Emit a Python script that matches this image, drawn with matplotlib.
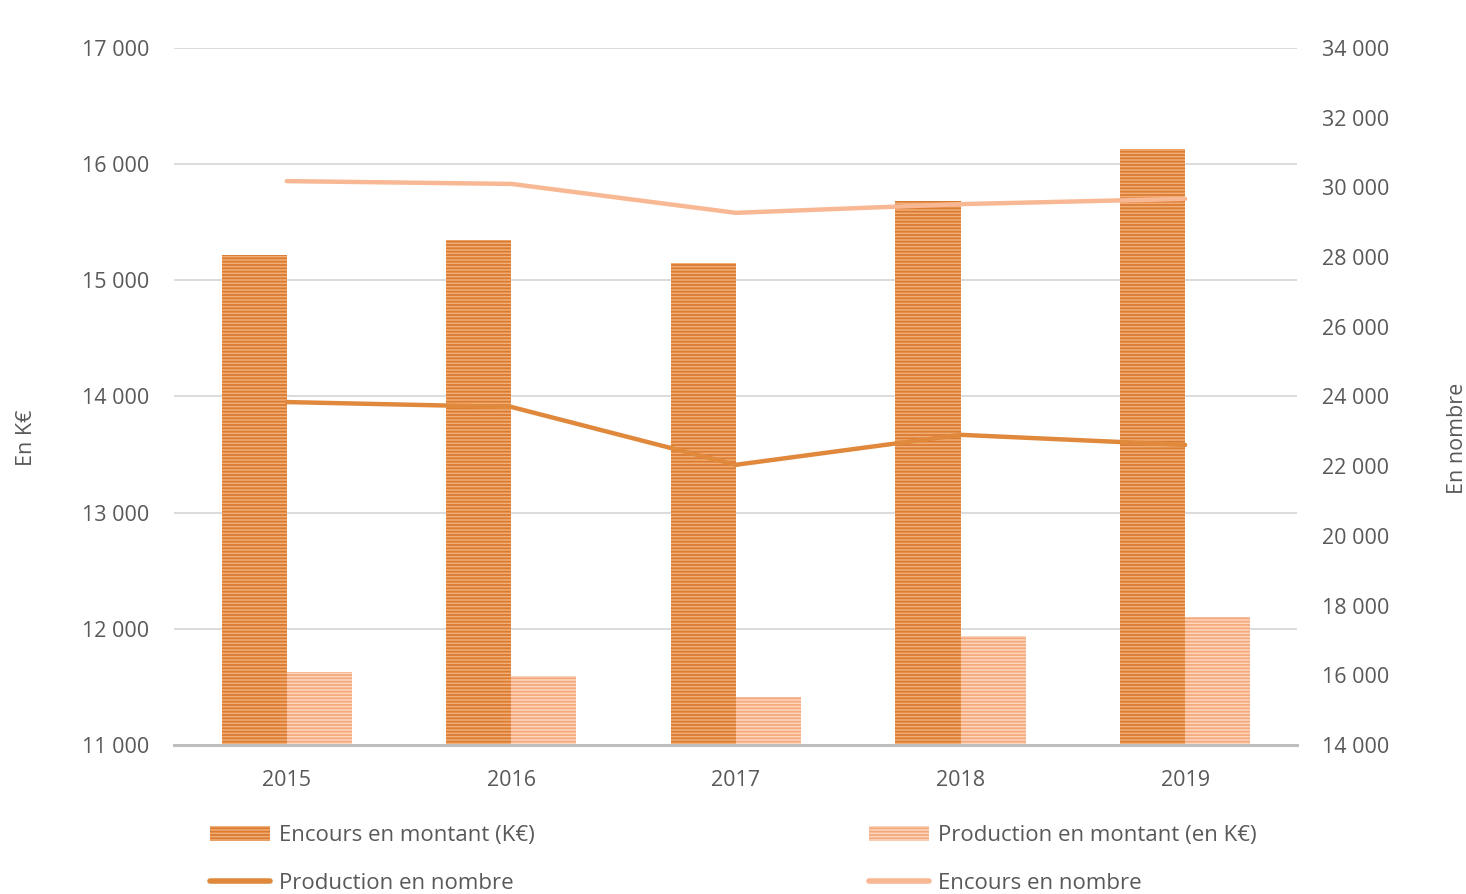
import matplotlib.pyplot as plt
import matplotlib.ticker as mticker
from matplotlib.patches import Patch
from matplotlib.lines import Line2D
import numpy as np

plt.rcParams['font.family'] = ['Open Sans', 'DejaVu Sans']
plt.rcParams['hatch.linewidth'] = 1.3

years = ['2015', '2016', '2017', '2018', '2019']
encours_montant = [15220, 15345, 15150, 15685, 16130]       # K€, left axis
production_montant = [11625, 11590, 11410, 11940, 12105]    # K€, left axis
production_nombre = [23840, 23700, 22040, 22900, 22610]     # right axis
encours_nombre = [30180, 30100, 29270, 29520, 29670]        # right axis

c_enc_bar = '#F2AE74'
c_enc_hatch = '#DA7B32'
c_prod_bar = '#FCD7BE'
c_prod_hatch = '#F5A97C'
c_prod_line = '#E0893D'
c_enc_line = '#F8B893'
grey = '#595959'

fig = plt.figure(figsize=(14.66, 8.94), dpi=100)
ax1 = fig.add_axes([0.119, 0.1667, 0.766, 0.7796])
ax2 = ax1.twinx()

x = np.arange(len(years))
width = 0.29
ax1.bar(x - width / 2, encours_montant, width, color=c_enc_bar,
        edgecolor=c_enc_hatch, linewidth=0, hatch='-----', zorder=2)
ax1.bar(x + width / 2, production_montant, width, color=c_prod_bar,
        edgecolor=c_prod_hatch, linewidth=0, hatch='-----', zorder=2)

ax2.plot(x, production_nombre, color=c_prod_line, lw=3.2, solid_capstyle='round')
ax2.plot(x, encours_nombre, color=c_enc_line, lw=3.2, solid_capstyle='round')

fmt = mticker.FuncFormatter(lambda v, p: f'{int(v):,}'.replace(',', ' '))
ax1.set_ylim(11000, 17000)
ax1.set_yticks(np.arange(11000, 17001, 1000))
ax1.yaxis.set_major_formatter(fmt)
ax2.set_ylim(14000, 34000)
ax2.set_yticks(np.arange(14000, 34001, 2000))
ax2.yaxis.set_major_formatter(fmt)
ax1.set_xlim(-0.5, 4.5)
ax1.set_xticks(x)
ax1.set_xticklabels(years)

ax1.grid(axis='y', color='#D9D9D9', lw=1.3)
ax1.set_axisbelow(True)
for ax in (ax1, ax2):
    for s in ax.spines.values():
        s.set_visible(False)
    ax.tick_params(length=0, labelsize=15.5, colors=grey)
ax1.spines['bottom'].set_visible(True)
ax1.spines['bottom'].set_color('#BFBFBF')
ax1.spines['bottom'].set_linewidth(2.2)
ax1.tick_params(axis='x', pad=18)
ax1.tick_params(axis='y', pad=18)
ax2.tick_params(axis='y', pad=18)

fig.text(0.018, 0.51, 'En K€', rotation=90, ha='center', va='center', fontsize=15.5, color=grey)
fig.text(0.994, 0.51, 'En nombre', rotation=90, ha='center', va='center', fontsize=15.5, color=grey)

h_enc = Patch(facecolor=c_enc_bar, edgecolor=c_enc_hatch, hatch='-----', lw=0)
h_prod = Patch(facecolor=c_prod_bar, edgecolor=c_prod_hatch, hatch='-----', lw=0)
h_pn = Line2D([], [], color=c_prod_line, lw=4, solid_capstyle='round')
h_en = Line2D([], [], color=c_enc_line, lw=4, solid_capstyle='round')

kw = dict(loc='upper left', frameon=False, fontsize=16, borderpad=0, borderaxespad=0,
          handlelength=2.7, handletextpad=0.4, labelspacing=1.2, labelcolor=grey,
          handleheight=0.7)
leg1 = fig.legend([h_enc, h_pn], ['Encours en montant (K€)', 'Production en nombre'],
                  bbox_to_anchor=(0.143, 0.077), **kw)
leg2 = fig.legend([h_prod, h_en], ['Production en montant (en K€)', 'Encours en nombre'],
                  bbox_to_anchor=(0.593, 0.077), **kw)

fig.savefig('out.png', dpi=100)
